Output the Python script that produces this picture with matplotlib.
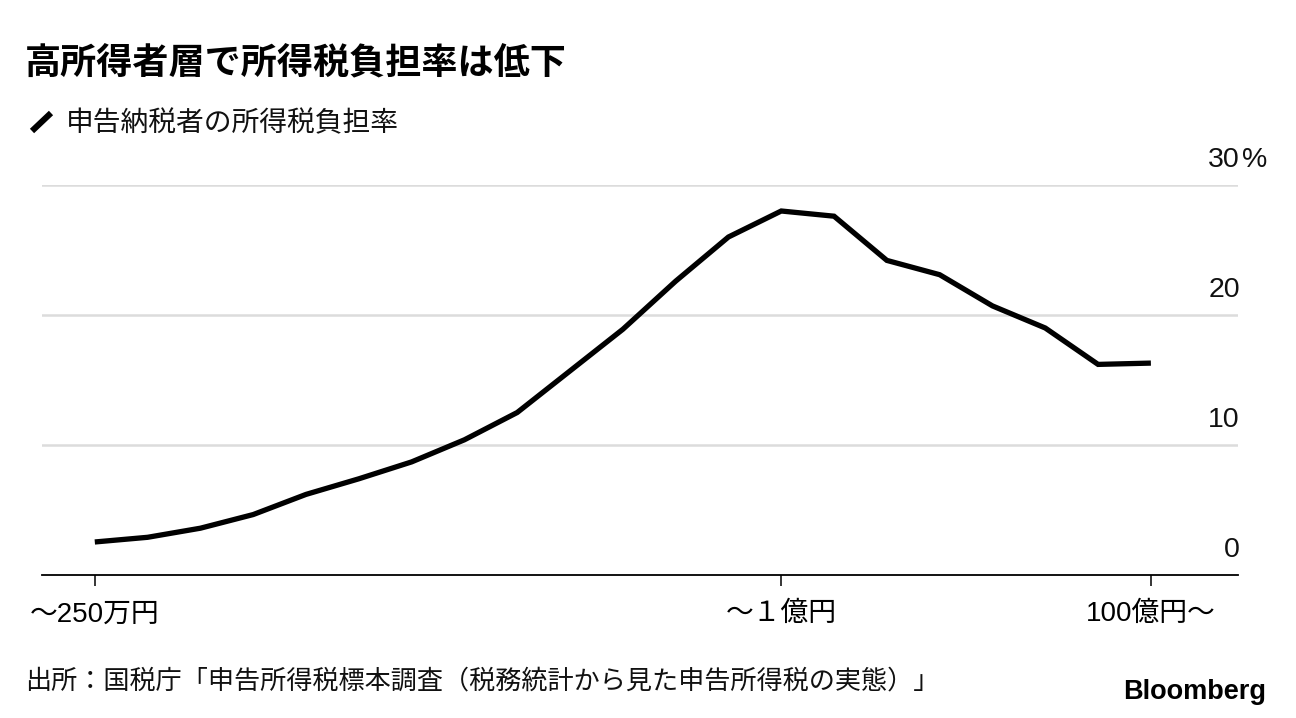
import matplotlib
matplotlib.use("Agg")
import matplotlib.pyplot as plt
import matplotlib.transforms as mtransforms
from matplotlib.lines import Line2D

# ---- data ----
brackets = list(range(21))  # income brackets, ~250万円 ... 100億円~
burden_rate = [2.54, 2.9, 3.6, 4.65, 6.2, 7.4, 8.7, 10.4, 12.5, 15.7, 18.9,
               22.6, 26.0, 28.0, 27.6, 24.2, 23.1, 20.7, 19.0, 16.2, 16.3]
xtick_pos = [0, 13, 20]
xtick_labels = ["〜250万円", "〜１億円", "100億円〜"]
ytick_vals = [0, 10, 20, 30]
ytick_labels = ["0", "10", "20", "30"]
ytick_unit = "%"

title = "高所得者層で所得税負担率は低下"
legend_label = "申告納税者の所得税負担率"
source = "出所：国税庁「申告所得税標本調査（税務統計から見た申告所得税の実態）」"

JP = ["Noto Sans CJK JP", "DejaVu Sans"]
MIX = ["Liberation Sans", "Noto Sans CJK JP", "DejaVu Sans"]
plt.rcParams["font.family"] = JP

W, H = 1296, 718
fig = plt.figure(figsize=(W / 100, H / 100), dpi=100)
ax = fig.add_axes([42 / W, 1 - 575 / H, (1238 - 42) / W, (575 - 185) / H])

ax.plot(brackets, burden_rate, color="black", lw=3.8, solid_joinstyle="miter",
        solid_capstyle="butt", zorder=3, clip_on=False)

ax.set_xlim(-1.0, 21.65)
ax.set_ylim(0, 30)

for v in ytick_vals[1:]:
    ax.axhline(v, color="#dcdcdc", lw=1.8, zorder=1)

for s in ["top", "right", "left"]:
    ax.spines[s].set_visible(False)
ax.spines["bottom"].set_color("black")
ax.spines["bottom"].set_linewidth(1.3)
ax.spines["bottom"].set_zorder(4)

ax.set_yticks([])
ax.set_xticks(xtick_pos)
ax.set_xticklabels(xtick_labels, fontsize=20, family=MIX)
ax.tick_params(axis="x", length=8, width=1.1, color="black", pad=11)

# y labels above gridlines, right-aligned at the axes edge
off = mtransforms.ScaledTranslation(2 / 100, 12 / 100, fig.dpi_scale_trans)
trans = mtransforms.blended_transform_factory(ax.transAxes, ax.transData) + off
for v, lab in zip(ytick_vals, ytick_labels):
    ax.text(1.0, v, lab, transform=trans, ha="right", va="bottom",
            fontsize=20.5, family=MIX, color="#111111")
off2 = mtransforms.ScaledTranslation(4 / 100, 12 / 100, fig.dpi_scale_trans)
trans2 = mtransforms.blended_transform_factory(ax.transAxes, ax.transData) + off2
ax.text(1.0, ytick_vals[-1], ytick_unit, transform=trans2, ha="left",
        va="bottom", fontsize=20.5, family=MIX, color="#111111")

# title
fig.text(25 / W, 1 - 64 / H, title, fontsize=26, fontweight="bold",
         ha="left", va="center", color="black")

# legend
fig.add_artist(Line2D([32 / W, 51 / W], [1 - 131 / H, 1 - 113 / H],
                      color="black", lw=4.4, solid_capstyle="butt",
                      transform=fig.transFigure))
fig.text(66 / W, 1 - 123 / H, legend_label, fontsize=20,
         ha="left", va="center", color="#111111")

# source
fig.text(25 / W, 1 - 681 / H, source, fontsize=18.8, ha="left", va="center",
         color="#111111")

# logo
fig.text(1266 / W, 1 - 692 / H, "Bloomberg", fontsize=19.5, fontweight="bold",
         family=["Liberation Sans", "DejaVu Sans"], ha="right", va="center",
         color="black")

fig.savefig("out.png", dpi=100, facecolor="white")
